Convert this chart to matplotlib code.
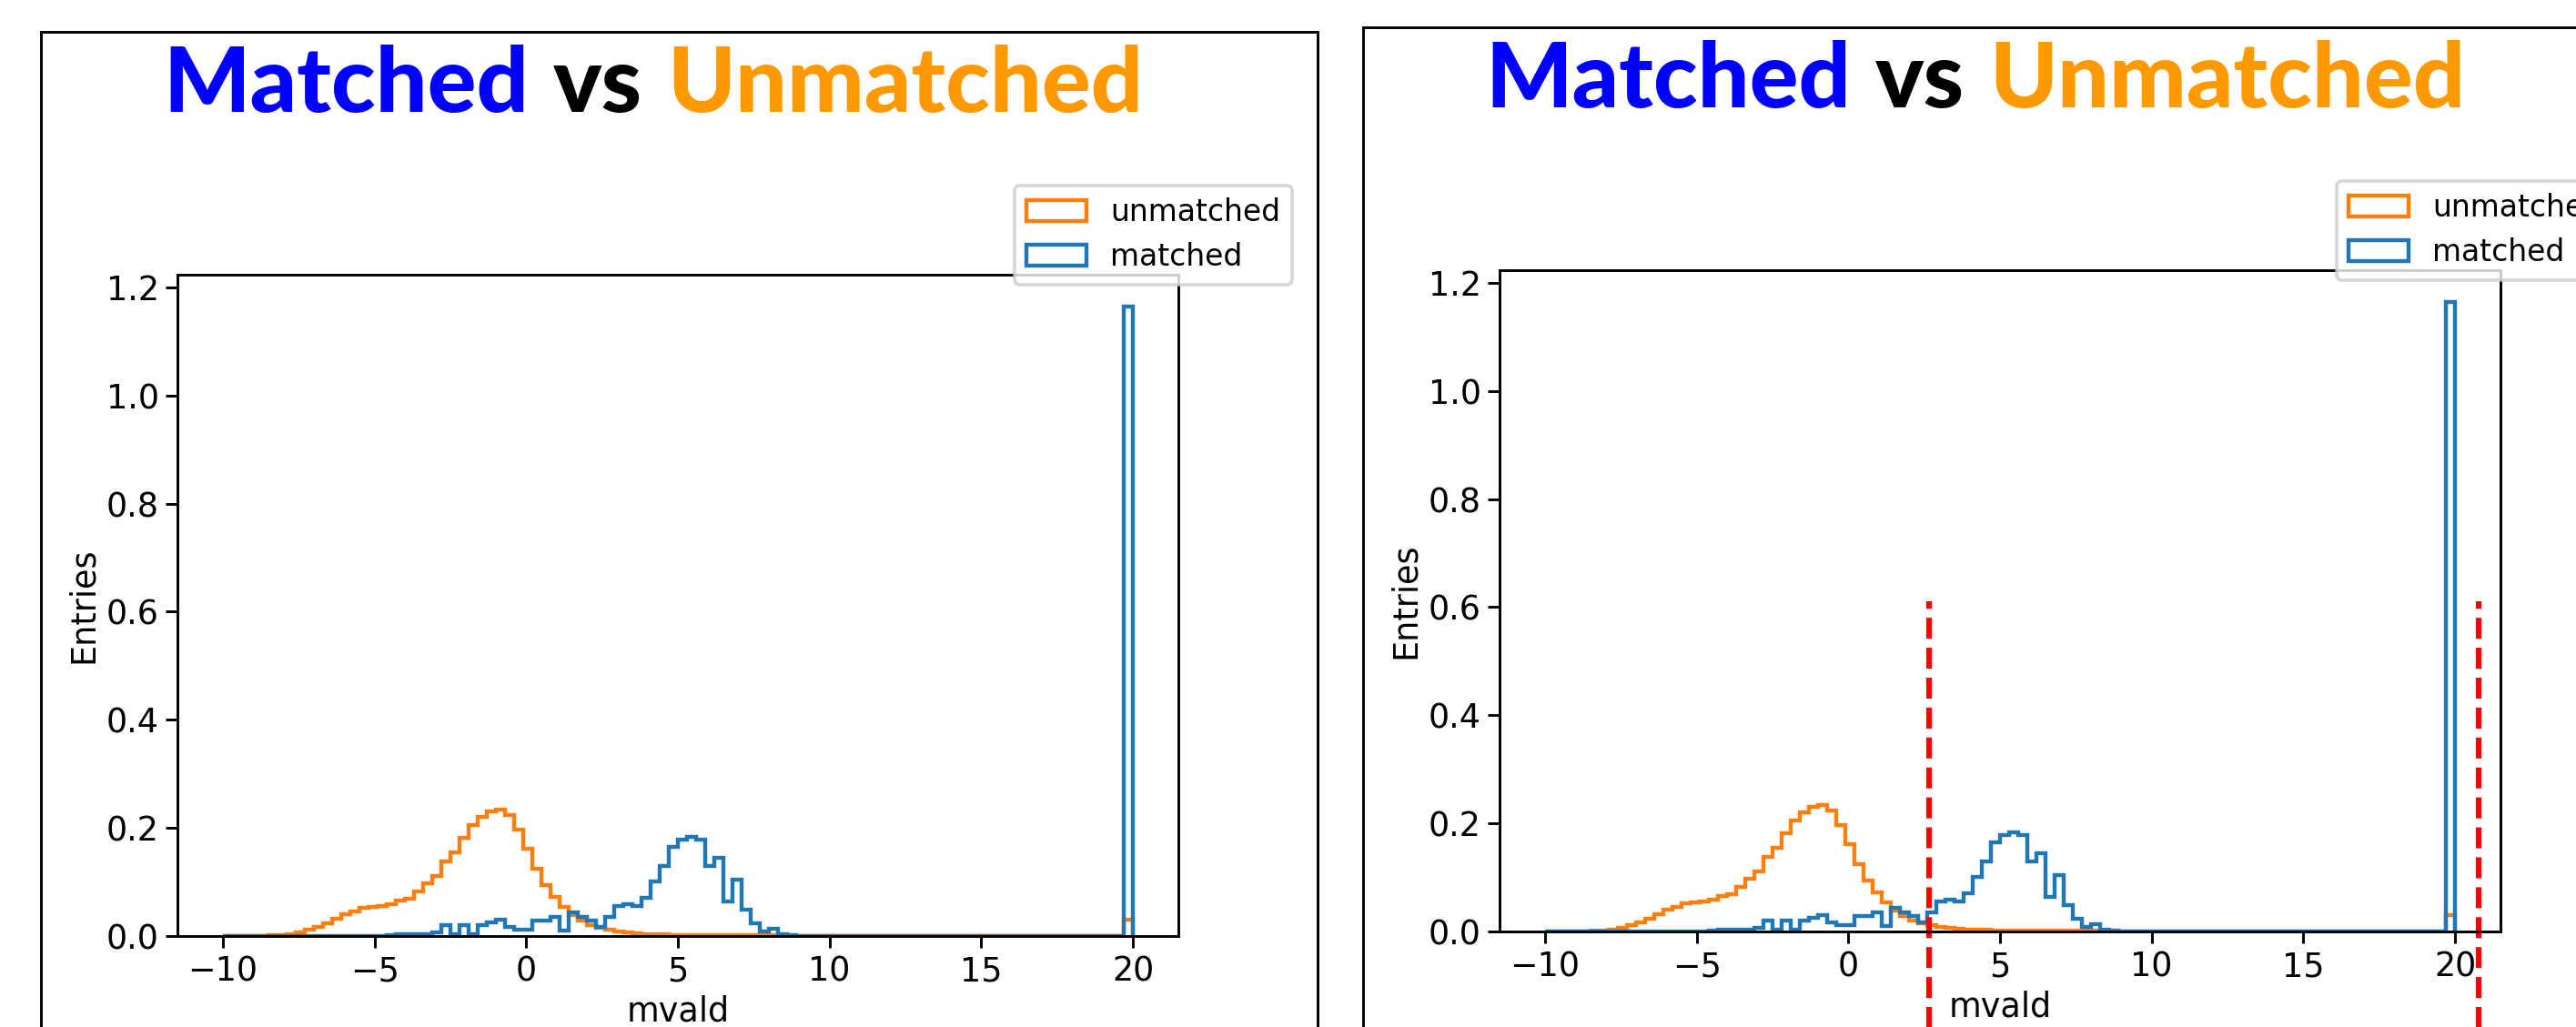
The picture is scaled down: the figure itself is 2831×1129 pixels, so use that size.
import numpy as np
import matplotlib.pyplot as plt
from matplotlib.patches import Rectangle

# histogram binning: 100 bins of 0.3 between -10 and 20
edges = np.linspace(-10, 20, 101)

unmatched = [0, 0, 0, 0, 0, 0.001, 0.002, 0.003, 0.006, 0.011,
             0.017, 0.024, 0.032, 0.040, 0.045, 0.052, 0.054, 0.056, 0.059, 0.065,
             0.069, 0.083, 0.097, 0.111, 0.138, 0.154, 0.182, 0.205, 0.220, 0.230,
             0.234, 0.223, 0.197, 0.162, 0.125, 0.094, 0.073, 0.054, 0.038, 0.028,
             0.021, 0.015, 0.012, 0.009, 0.006, 0.005, 0.004, 0.003, 0.003, 0.002,
             0.002, 0.002, 0.001, 0.001, 0.001, 0.001, 0.001, 0.001, 0.001, 0.001,
             0.001, 0, 0, 0, 0, 0, 0, 0, 0, 0,
             0, 0, 0, 0, 0, 0, 0, 0, 0, 0,
             0, 0, 0, 0, 0, 0, 0, 0, 0, 0,
             0, 0, 0, 0, 0, 0, 0, 0, 0, 0.030]

matched = [0, 0, 0, 0, 0, 0, 0, 0, 0, 0,
           0, 0, 0, 0, 0, 0, 0, 0, 0.002, 0.004,
           0.003, 0.004, 0.003, 0.006, 0.020, 0.004, 0.020, 0.004, 0.020, 0.026,
           0.030, 0.016, 0.011, 0.011, 0.029, 0.028, 0.035, 0.010, 0.044, 0.035,
           0.028, 0.016, 0.035, 0.055, 0.059, 0.055, 0.070, 0.101, 0.130, 0.165,
           0.179, 0.183, 0.179, 0.129, 0.144, 0.064, 0.105, 0.049, 0.024, 0.008,
           0.014, 0.004, 0.002, 0, 0, 0, 0, 0, 0, 0,
           0, 0, 0, 0, 0, 0, 0, 0, 0, 0,
           0, 0, 0, 0, 0, 0, 0, 0, 0, 0,
           0, 0, 0, 0, 0, 0, 0, 0, 0, 1.165]

cuts = [2.66, 20.78]

title_words = ["Matched", "vs", "Unmatched"]
title_colors = ["#0000ff", "black", "#ff9900"]

W, H = 2831, 1129
DPI = 263
plt.rcParams["xtick.major.pad"] = 2
plt.rcParams["ytick.major.pad"] = 2
fig = plt.figure(figsize=(W / DPI, H / DPI), dpi=DPI)
renderer = fig.canvas.get_renderer()

centers = (edges[:-1] + edges[1:]) / 2


def draw_title(xc, y_base):
    texts = []
    for word, col in zip(title_words, title_colors):
        t = fig.text(0, 1 - y_base / H, word, color=col, fontsize=27.5,
                     fontweight="black", family="Lato", va="baseline")
        texts.append(t)
    widths = [t.get_window_extent(renderer).width for t in texts]
    gap = 27
    x = xc - (sum(widths) + gap * (len(texts) - 1)) / 2
    for t, w in zip(texts, widths):
        t.set_x(x / W)
        x += w + gap


def draw_panel(dx, dy, with_cuts):
    # frame around the slide panel
    fig.patches.append(Rectangle(((45 + dx) / W, -0.1), 1403 / W, 1.1 - (35 + dy) / H,
                                 transform=fig.transFigure, fill=False,
                                 lw=0.8, ec="black"))
    draw_title(718 + dx, 123 + dy)

    ax = fig.add_axes([(195 + dx) / W, (H - 1029 - dy) / H, 1100 / W, 727 / H])
    ax.hist(centers, bins=edges, weights=unmatched, histtype="step",
            color="C1", label="unmatched", lw=1.2)
    ax.hist(centers, bins=edges, weights=matched, histtype="step",
            color="C0", label="matched", lw=1.2)
    ax.set_xlabel("mvald", labelpad=2)
    ax.set_ylabel("Entries", labelpad=2)
    ax.legend(loc="upper left", bbox_to_anchor=(0.836, 1.135), borderaxespad=0,
              fontsize=9)
    if with_cuts:
        xl, yl = ax.get_xlim(), ax.get_ylim()
        ax.vlines(cuts, -0.4, 0.61, colors="red", linestyles="--", lw=1.7,
                  clip_on=False)
        ax.set_xlim(xl)
        ax.set_ylim(yl)
    return ax


draw_panel(0, 0, False)
draw_panel(1453, -5, True)

fig.savefig("out.png", dpi=DPI)
